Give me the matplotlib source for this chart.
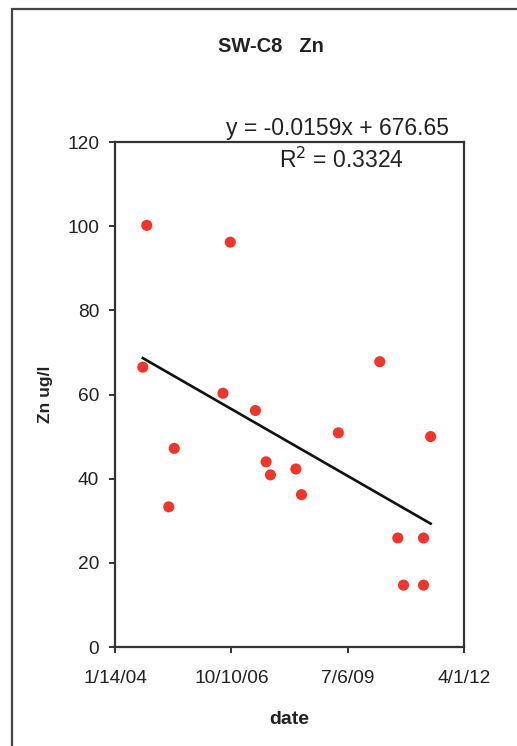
import matplotlib
matplotlib.use("Agg")
import matplotlib.pyplot as plt
from matplotlib.patches import Rectangle
import numpy as np

plt.rcParams['font.family'] = ['Liberation Sans', 'DejaVu Sans']

# Excel date serial numbers
dates = [38239, 38273, 38462, 38509, 38928, 38991, 39207, 39299, 39336,
         39555, 39603, 39920, 40276, 40431, 40480, 40652, 40652, 40713]
zn = [66.5, 100.2, 33.3, 47.2, 60.3, 96.2, 56.2, 44.0, 40.9,
      42.3, 36.2, 50.9, 67.8, 25.9, 14.7, 25.9, 14.7, 50.0]
slope = -0.0159
intercept = 676.65
r2 = 0.3324
xtick_vals = [38000, 39000, 40000, 41000]
xtick_labels = ['1/14/04', '10/10/06', '7/6/09', '4/1/12']
ytick_vals = [0, 20, 40, 60, 80, 100, 120]

W, H = 517, 746
fig = plt.figure(figsize=(W / 100, H / 100), dpi=100)
fig.patch.set_facecolor('white')

# outer chart frame
fig.patches.append(Rectangle((12 / W, -0.1), 1.2, 0.1 + (1 - 9 / H),
                             transform=fig.transFigure, fill=False,
                             edgecolor='#444444', linewidth=1.6))

ax = fig.add_axes([115 / W, 1 - 647 / H, (464 - 115) / W, (647 - 142) / H])
ax.scatter(dates, zn, s=64, color='#f2352a', edgecolors='none', zorder=3)

xs = np.array([min(dates), max(dates)])
ax.plot(xs, slope * xs + intercept, color='#111111', linewidth=1.9, zorder=2)

ax.set_xlim(xtick_vals[0], xtick_vals[-1])
ax.set_ylim(ytick_vals[0], ytick_vals[-1])
ax.set_xticks(xtick_vals)
ax.set_xticklabels(xtick_labels)
ax.set_yticks(ytick_vals)
for sp in ax.spines.values():
    sp.set_color('#333333')
    sp.set_linewidth(1.6)
ax.tick_params(axis='both', direction='out', length=4.5, width=1.4,
               colors='#333333', labelsize=13.8, labelcolor='#222222')
ax.tick_params(axis='x', pad=12)
ax.tick_params(axis='y', pad=7)

ax.set_xlabel('date', fontsize=14, fontweight='bold', color='#222222', labelpad=17)
ax.set_ylabel('Zn ug/l', fontsize=12.5, fontweight='bold', color='#222222', labelpad=10)

fig.text(271 / W, 1 - 47 / H, 'SW-C8   Zn', ha='center', va='center',
         fontsize=14.5, fontweight='bold', color='#222222')
fig.text(338 / W, 1 - 128 / H, f'y = {slope}x + {intercept}', ha='center',
         va='center', fontsize=16.5, color='#222222')
fig.text(341 / W, 1 - 160 / H, f'R$^2$ = {r2}', ha='center', va='center',
         fontsize=16.5, color='#222222')

fig.savefig('out.png', dpi=100, facecolor='white')
